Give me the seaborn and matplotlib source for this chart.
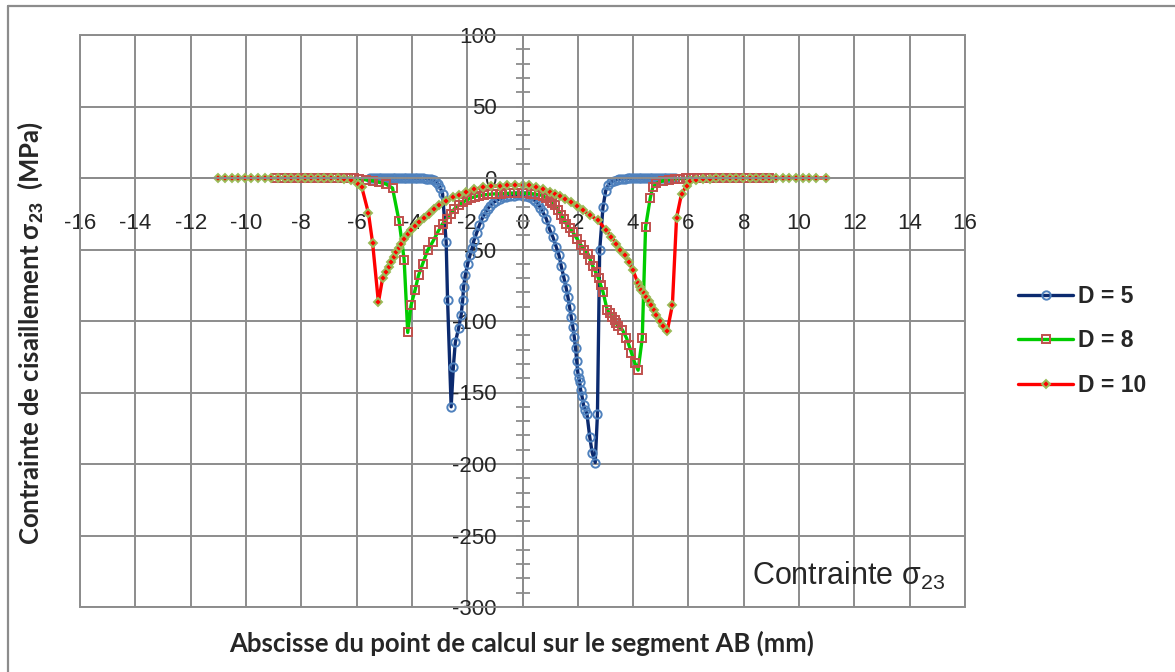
import matplotlib
matplotlib.use('Agg')
import matplotlib.pyplot as plt
import seaborn as sns
from matplotlib.patches import Rectangle
from matplotlib.lines import Line2D
from matplotlib.ticker import MultipleLocator

# Valeurs : abscisse (mm) et contrainte sigma_23 (MPa)
x_d5 = [-5.5, -5.4, -5.3, -5.2, -5.1, -5.0, -4.9, -4.8, -4.7, -4.6,
        -4.5, -4.4, -4.3, -4.2, -4.1, -4.0, -3.9, -3.8, -3.7, -3.6,
        -3.5, -3.4, -3.3, -3.2, -3.13, -3.05, -2.97, -2.89, -2.76, -2.71,
        -2.58, -2.50, -2.43, -2.31, -2.22, -2.16, -2.13, -2.07, -1.98, -1.90,
        -1.82, -1.76, -1.66, -1.56, -1.44, -1.35, -1.26, -1.17, -1.08, -0.96,
        -0.83, -0.71, -0.59, -0.44, -0.29, -0.15, 0.0, 0.12, 0.25, 0.37,
        0.47, 0.56, 0.65, 0.74, 0.86, 0.98, 1.10, 1.22, 1.32, 1.40,
        1.50, 1.58, 1.64, 1.70, 1.76, 1.82, 1.87, 1.92, 1.96, 2.00,
        2.04, 2.07, 2.10, 2.15, 2.21, 2.27, 2.33, 2.43, 2.52, 2.63,
        2.71, 2.79, 2.91, 3.01, 3.1, 3.2, 3.3, 3.4, 3.5, 3.6,
        3.7, 3.8, 3.9, 4.0, 4.1, 4.2, 4.3, 4.4, 4.5, 4.6,
        4.7, 4.8, 4.9, 5.0, 5.1, 5.2, 5.3, 5.4, 5.5]
y_d5 = [0, 0, 0, 0, 0, 0, 0, 0, 0, 0,
        0, 0, 0, 0, 0, 0, -0.1, -0.1, -0.2, -0.3,
        -0.4, -0.6, -0.9, -1.5, -2.5, -4.2, -7, -11, -45, -85,
        -160, -132, -115, -105, -96, -85, -76, -68, -60, -54,
        -49, -44, -38.5, -33, -27.5, -24.5, -21.5, -19.5, -17.6, -16,
        -14.6, -13.6, -13, -12.6, -12.3, -12.2, -12.3, -12.8, -13.5, -14.6,
        -16.2, -18.1, -20.8, -24, -28.5, -36, -41.3, -48.2, -54, -61.6,
        -70, -77, -83, -90, -97, -104, -111, -119, -128, -136,
        -140, -143, -148, -152.5, -159, -162, -165, -181, -192, -199,
        -165, -50.5, -20.4, -8.8, -5, -3, -1.8, -1.2, -0.8, -0.6,
        -0.4, -0.3, -0.2, -0.1, -0.1, 0, 0, 0, 0, 0,
        0, 0, 0, 0, 0, 0, 0, 0, 0]

x_d8 = [-8.9, -8.7, -8.5, -8.3, -8.1, -7.9, -7.7, -7.5, -7.3, -7.1,
        -6.9, -6.7, -6.5, -6.3, -6.1, -5.9, -5.66, -5.42, -5.18, -4.94,
        -4.70, -4.46, -4.28, -4.15, -4.03, -3.88, -3.76, -3.61, -3.43, -3.25,
        -3.03, -2.89, -2.74, -2.60, -2.46, -2.31, -2.16, -2.01, -1.86, -1.71,
        -1.56, -1.40, -1.25, -1.10, -0.95, -0.78, -0.60, -0.45, -0.30, -0.15,
        0.0, 0.15, 0.30, 0.45, 0.60, 0.74, 0.86, 0.98, 1.07, 1.16,
        1.28, 1.40, 1.49, 1.58, 1.70, 1.82, 1.97, 2.12, 2.24, 2.36,
        2.45, 2.54, 2.65, 2.75, 2.83, 2.91, 3.06, 3.15, 3.25, 3.33,
        3.39, 3.45, 3.61, 3.76, 3.85, 3.94, 4.06, 4.18, 4.33, 4.45,
        4.62, 4.71, 4.84, 5.08, 5.3, 5.5, 5.7, 5.9, 6.1, 6.3,
        6.5, 6.7, 6.9, 7.1, 7.3, 7.5, 7.7, 7.9, 8.1, 8.3,
        8.5, 8.7, 8.9]
y_d8 = [0, 0, 0, 0, 0, 0, 0, 0, 0, 0,
        0, 0, 0, 0, -0.2, -0.6, -1.3, -1.9, -3, -4.2,
        -7, -30.4, -57, -108, -89, -78, -68, -60, -50.5, -44.7,
        -36.6, -32, -28.5, -25, -21.5, -19, -17, -15.3, -13.9, -13,
        -12.3, -11.8, -11.5, -11.2, -11.1, -10.9, -10.8, -10.7, -10.6, -10.6,
        -10.6, -10.7, -10.9, -11.2, -11.7, -12.3, -14, -15.8, -17.5, -19.2,
        -22.5, -26.2, -29, -32, -35, -37.8, -42.5, -47, -50, -52.8,
        -57, -61.6, -66, -70.2, -75, -79.5, -92.2, -94.5, -96.9, -99.2,
        -101.5, -103.8, -106.1, -111.9, -117, -122.3, -129.3, -134.4, -111.9, -34.3,
        -13.9, -6.5, -3.7, -1.9, -1.1, -0.7, -0.4, -0.2, 0, 0,
        0, 0, 0, 0, 0, 0, 0, 0, 0, 0,
        0, 0, 0]

x_d10 = [-11.0, -10.76, -10.52, -10.28, -10.04, -9.8, -9.56, -9.32, -9.08, -8.84,
         -8.6, -8.36, -8.12, -7.88, -7.64, -7.4, -7.16, -6.92, -6.68, -6.44,
         -6.2, -5.94, -5.81, -5.57, -5.42, -5.21, -5.06, -4.95, -4.84, -4.74,
         -4.64, -4.56, -4.48, -4.38, -4.28, -4.15, -4.03, -3.88, -3.73, -3.55,
         -3.37, -3.19, -3.01, -2.77, -2.53, -2.28, -2.04, -1.74, -1.44, -1.14,
         -0.83, -0.55, -0.28, 0.0, 0.25, 0.5, 0.74, 0.98, 1.16, 1.34,
         1.55, 1.76, 1.97, 2.18, 2.45, 2.73, 3.03, 3.21, 3.39, 3.54,
         3.69, 3.84, 3.99, 4.18, 4.24, 4.30, 4.38, 4.48, 4.57, 4.66,
         4.75, 4.84, 4.96, 5.08, 5.23, 5.42, 5.57, 5.75, 5.93, 6.05,
         6.29, 6.53, 6.77, 7.01, 7.25, 7.49, 7.73, 7.97, 8.21, 8.45,
         8.69, 8.93, 9.17, 9.41, 9.65, 9.89, 10.13, 10.37, 10.61, 10.96]
y_d10 = [0, 0, 0, 0, 0, 0, 0, 0, 0, 0,
         0, 0, 0, 0, 0, 0, 0, 0, 0, -0.5,
         -1.2, -4.2, -6.5, -24.6, -45.4, -87, -70.2, -66, -62.5, -58.8,
         -55.2, -52, -49.3, -46, -42.4, -39.5, -36.6, -33.5, -30.8, -27.8,
         -25, -22, -19.2, -16.2, -13.5, -11.7, -10, -8, -6.5, -5.9,
         -5.4, -5.1, -5.0, -5.0, -5.2, -6, -7.8, -10, -11.2, -12.3,
         -14.5, -16.9, -19.7, -22.7, -26, -29.7, -36.6, -41, -45.9, -50,
         -54, -59, -64.4, -73.7, -76, -78.3, -80.6, -83, -86, -88.7,
         -92, -95.7, -100, -103.8, -107.3, -88.7, -27.8, -11.1, -5.4, -2.3,
         -1.4, -0.8, -0.4, 0, 0, 0, 0, 0, 0, 0,
         0, 0, 0, 0, 0, 0, 0, 0, 0, 0]

etiquettes = ['D = 5', 'D = 8', 'D = 10']
couleurs_ligne = ['#0B2A6F', '#00CC00', '#FF0000']
marqueurs = ['o', 's', 'D']
bord_marqueur = ['#4F81BD', '#C0504D', '#9BBB59']
fond_marqueur = ['none', 'none', '#FF0000']
taille_marqueur = [6.0, 6.0, 4.4]

GRIS = '#8C8C8C'

sns.set_style('white')
plt.rcParams['font.family'] = ['Liberation Sans', 'DejaVu Sans']
plt.rcParams['axes.unicode_minus'] = False
plt.rcParams['mathtext.fontset'] = 'custom'
plt.rcParams['mathtext.rm'] = 'Liberation Sans'
plt.rcParams['mathtext.it'] = 'Liberation Sans:italic'
plt.rcParams['mathtext.bf'] = 'Liberation Sans:bold'

fig = plt.figure(figsize=(11.75, 6.72), dpi=100)
ax = fig.add_axes([80 / 1175, 1 - 607 / 672, 885 / 1175, 572 / 672])

donnees = [(x_d5, y_d5), (x_d8, y_d8), (x_d10, y_d10)]
for i, (xs, ys) in enumerate(donnees):
    sns.lineplot(x=xs, y=ys, ax=ax, sort=False, estimator=None,
                 color=couleurs_ligne[i], linewidth=2.4,
                 marker=marqueurs[i], markersize=taille_marqueur[i],
                 markerfacecolor=fond_marqueur[i], markeredgecolor=bord_marqueur[i],
                 markeredgewidth=1.4, label=etiquettes[i])

ax.set_xlim(-16, 16)
ax.set_ylim(-300, 100)
ax.xaxis.set_major_locator(MultipleLocator(2))
ax.yaxis.set_major_locator(MultipleLocator(50))
ax.yaxis.set_minor_locator(MultipleLocator(10))
ax.grid(True, which='major', color=GRIS, linewidth=1.4)
ax.set_axisbelow(True)

# axes croisés en (0, 0) comme dans Excel
for cote in ['top', 'right']:
    ax.spines[cote].set_visible(False)
ax.spines['left'].set_position(('data', 0))
ax.spines['bottom'].set_position(('data', 0))
for cote in ['left', 'bottom']:
    ax.spines[cote].set_color(GRIS)
    ax.spines[cote].set_linewidth(1.4)
ax.add_patch(Rectangle((0, 0), 1, 1, transform=ax.transAxes, fill=False,
                       edgecolor=GRIS, linewidth=1.4, clip_on=False, zorder=0.6))

ax.tick_params(axis='y', which='both', left=True, direction='inout', length=9.4, width=1.3,
               color=GRIS, labelsize=16, pad=14)
ax.tick_params(axis='x', length=0, labelsize=16, pad=25)
ax.set_xlabel('')
ax.set_ylabel('')

if ax.get_legend() is not None:
    ax.get_legend().remove()
handles, labels = ax.get_legend_handles_labels()
fig.legend(handles, labels, loc='center left', bbox_to_anchor=(1018 / 1175, 1 - 341 / 672),
           frameon=False, prop={'weight': 'bold', 'size': 16.5}, handlelength=2.4,
           handletextpad=0.2, labelspacing=0.92, borderpad=0, borderaxespad=0, numpoints=1)

fig.text(752 / 1175, 1 - 576 / 672, 'Contrainte σ$_{23}$', fontsize=22, ha='left', va='center')
fig.text(30 / 1175, 0.505, 'Contrainte de cisaillement σ$_{\\mathbf{23}}$  (MPa)',
         family=['Lato', 'DejaVu Sans'], weight='bold', fontsize=18.5,
         rotation=90, ha='center', va='center')
fig.text(522 / 1175, 1 - 643 / 672, 'Abscisse du point de calcul sur le segment AB (mm)',
         family=['Lato', 'DejaVu Sans'], weight='bold', fontsize=18.5, ha='center', va='center')

# cadre extérieur du graphique
fig.add_artist(Line2D([8 / 1175, 8 / 1175], [0, 1 - 6 / 672], transform=fig.transFigure,
                      color=GRIS, linewidth=1.6))
fig.add_artist(Line2D([8 / 1175, 1], [1 - 6 / 672, 1 - 6 / 672], transform=fig.transFigure,
                      color=GRIS, linewidth=1.6))

plt.savefig('out.png', dpi=100)
